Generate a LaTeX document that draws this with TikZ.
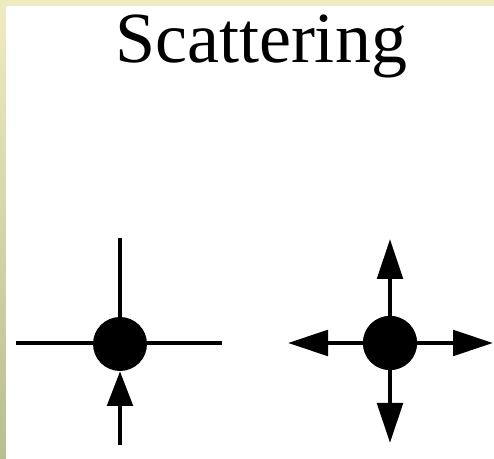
\documentclass[tikz,border=0pt]{standalone}
\usepackage{fontspec}
\setmainfont{Liberation Serif}
\usetikzlibrary{arrows.meta}
\definecolor{stripyel}{RGB}{238,235,192}
\definecolor{stripgrn}{RGB}{184,190,146}
\tikzset{
  ln/.style={line width=3.2pt},
  dot/.style={circle,fill=black,inner sep=0pt,minimum size=40.5pt},
  tri/.style={-{Triangle[length=30pt,width=19pt]}},
  trishort/.style={-{Triangle[length=26pt,width=19pt]}}
}
\begin{document}
\begin{tikzpicture}[x=0.75pt,y=-0.75pt]
\useasboundingbox (0,0) rectangle (494,459);
\fill[stripyel] (0,0) rectangle (494,459);
\shade[top color=stripyel,bottom color=stripgrn] (0,6) rectangle (6,459);
\fill[white] (6,6) rectangle (494,459);
\node[anchor=base,font=\fontsize{54pt}{60pt}\selectfont,inner sep=0pt] (title) at (261,63) {Scattering};
% left: incoming particle
\node[dot] (c1) at (120,344) {};
\coordinate (l1) at (16,343);
\coordinate (r1) at (222,343);
\coordinate (t1) at (120,238);
\coordinate (b1) at (120,445);
\draw[ln] (l1) -- (r1);
\draw[ln] (t1) -- (c1);
\draw[ln,trishort] (b1) -- (c1.south);
% right: outgoing
\node[dot] (c2) at (390,343) {};
\coordinate (l2) at (288,343);
\coordinate (r2) at (493,343);
\coordinate (t2) at (390,239);
\coordinate (b2) at (390,443);
\draw[ln,tri] (c2.center) -- (l2);
\draw[ln,tri] (c2.center) -- (r2);
\draw[ln,tri] (c2.center) -- (t2);
\draw[ln,tri] (c2.center) -- (b2);
\node[dot] at (c2) {};
\end{tikzpicture}
\end{document}
